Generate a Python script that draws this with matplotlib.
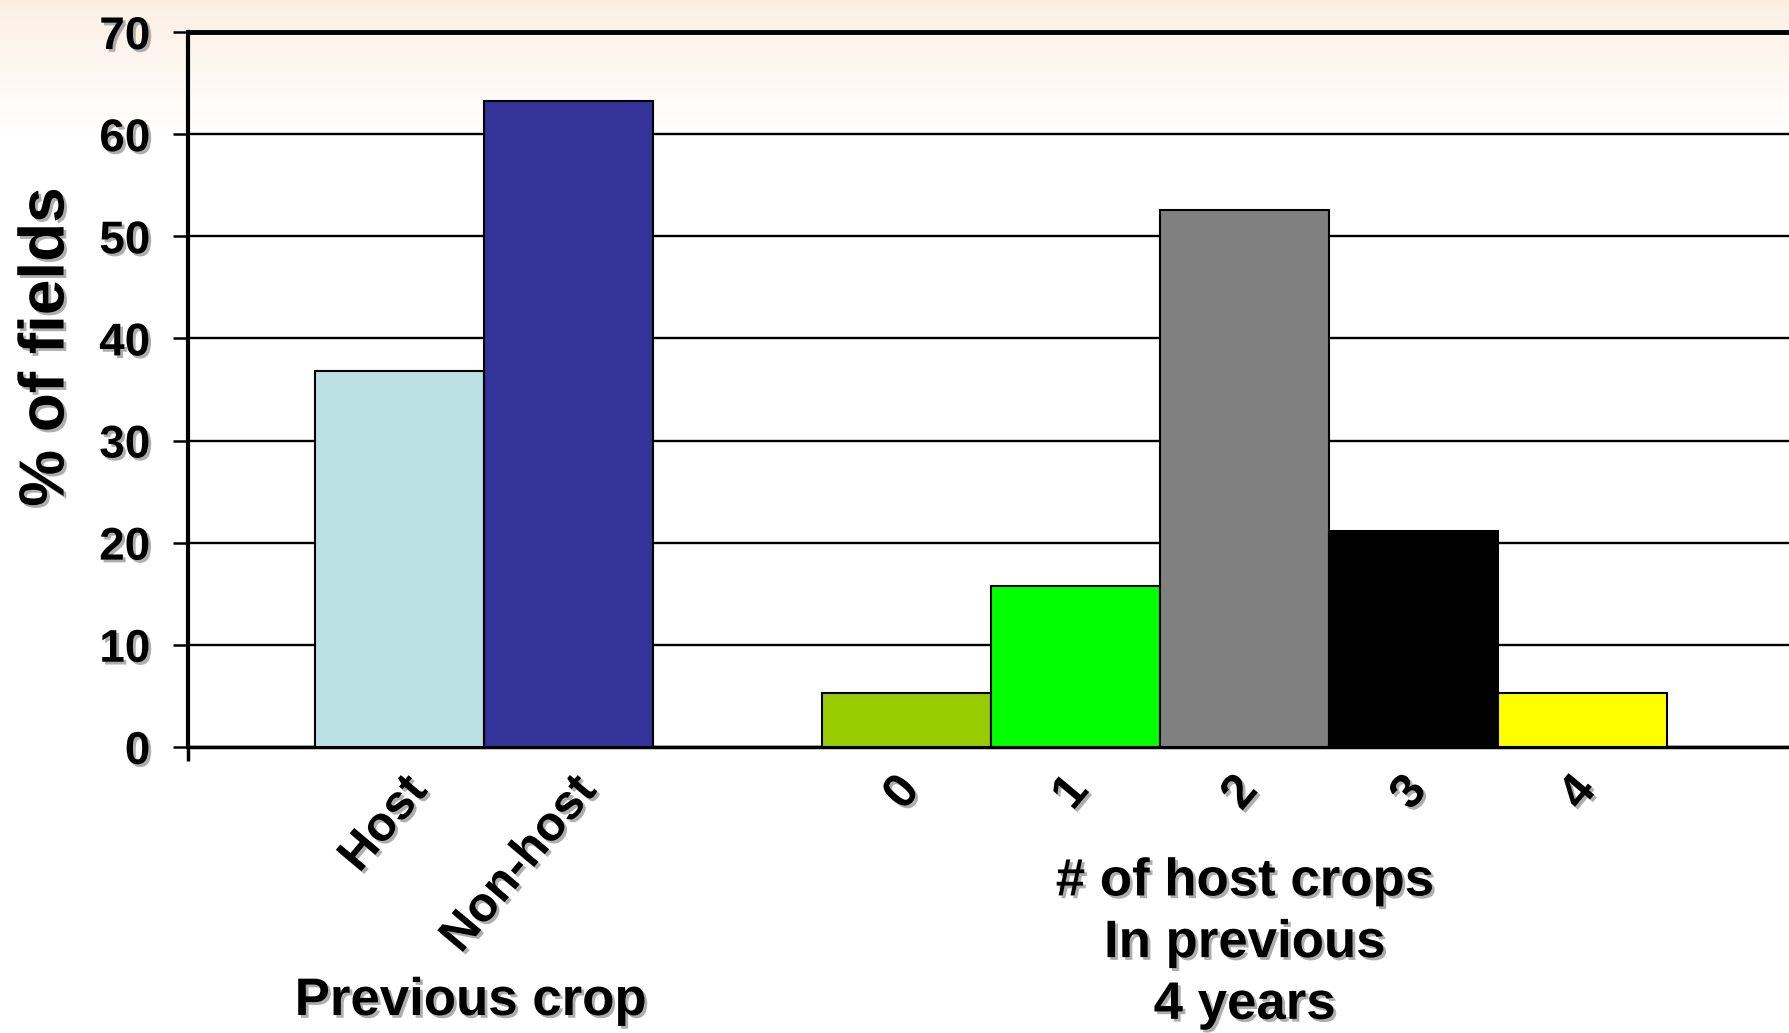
# Balkendiagramm: % der Felder nach Vorfrucht / Anzahl Wirtsfrüchte

import numpy as np
import matplotlib.pyplot as plt
import matplotlib.patheffects as pe
from matplotlib.transforms import blended_transform_factory, ScaledTranslation

plt.rcParams['font.family'] = ['Liberation Sans', 'DejaVu Sans']
plt.rcParams['font.weight'] = 'bold'

# Daten
crop_labels = ['Host', 'Non-host']
crop_values = [36.8, 63.2]
crop_colors = ['#BBE0E3', '#333399']

count_labels = ['0', '1', '2', '3', '4']
count_values = [5.3, 15.8, 52.6, 21.1, 5.3]
count_colors = ['#99CC00', '#00FF00', '#808080', '#000000', '#FFFF00']

yticks = [0, 10, 20, 30, 40, 50, 60, 70]

# Positionen: zwei Gruppen mit einer Lücke dazwischen
x_crop = np.arange(len(crop_labels))
x_count = np.arange(len(count_labels)) + len(crop_labels) + 1

shadow = [pe.withSimplePatchShadow(offset=(2, -2), shadow_rgbFace='#9a9a9a', alpha=0.8)]

fig = plt.figure(figsize=(17.9, 10.33), dpi=100)

# Hintergrund: leichter Farbverlauf oben
bg = fig.add_axes([0, 0, 1, 1], zorder=-5)
grad = np.linspace(0, 1, 256)[:, None]
fade = np.clip(grad / 0.13, 0, 1)
img = np.ones((256, 1, 3))
img[:, 0, 0] = 0.99 + 0.01 * fade[:, 0]
img[:, 0, 1] = 0.94 + 0.06 * fade[:, 0]
img[:, 0, 2] = 0.89 + 0.11 * fade[:, 0]
bg.imshow(img, aspect='auto', extent=[0, 1, 0, 1], origin='upper')
bg.axis('off')

ax = fig.add_axes([0.105, 0.277, 0.9, 0.692])
ax.patch.set_alpha(0)

ax.bar(x_crop, crop_values, width=1.0, color=crop_colors,
       edgecolor='black', linewidth=1.5, zorder=3)
ax.bar(x_count, count_values, width=1.0, color=count_colors,
       edgecolor='black', linewidth=1.5, zorder=3)

ax.set_ylim(0, 70)
ax.set_xlim(-1.25, 8.28)
ax.set_yticks(yticks)
ax.yaxis.grid(True, color='black', linewidth=1.7, zorder=1)
ax.set_axisbelow(True)

ax.spines['right'].set_visible(False)
ax.spines['top'].set_linewidth(3.5)
ax.spines['left'].set_linewidth(3)
ax.spines['bottom'].set_linewidth(2.5)

ax.tick_params(axis='y', direction='out', length=11, width=1.8,
               labelsize=33, pad=16)
for t in ax.get_yticklabels():
    t.set_path_effects(shadow)

ax.set_xticks(list(x_crop) + list(x_count))
ax.set_xticklabels(crop_labels + count_labels, rotation=50,
                   ha='right', va='center', rotation_mode='anchor', fontsize=35)
ax.tick_params(axis='x', length=0, pad=26)
for i, t in enumerate(ax.get_xticklabels()):
    dx = 0.2 if i < len(crop_labels) else 0.05
    t.set_path_effects(shadow)
    t.set_transform(t.get_transform() + ScaledTranslation(dx, 0, fig.dpi_scale_trans))
# kleiner Strich links unten
ax.set_xticks([-1.25], minor=True)
ax.tick_params(axis='x', which='minor', length=10, width=2.5, direction='out')

fig.text(0.026, 0.664, '% of fields', rotation=90, ha='center', va='center',
         fontsize=46, path_effects=shadow)

trans = blended_transform_factory(ax.transData, fig.transFigure)
fig.text(0.42, 0.031, 'Previous crop', transform=trans, ha='center', va='center',
         fontsize=38, path_effects=shadow)
fig.text(x_count[2], 0.087, '# of host crops\nIn previous\n4 years', transform=trans,
         ha='center', va='center', fontsize=38, linespacing=1.3,
         path_effects=shadow)

fig.savefig('out.png', dpi=100)
